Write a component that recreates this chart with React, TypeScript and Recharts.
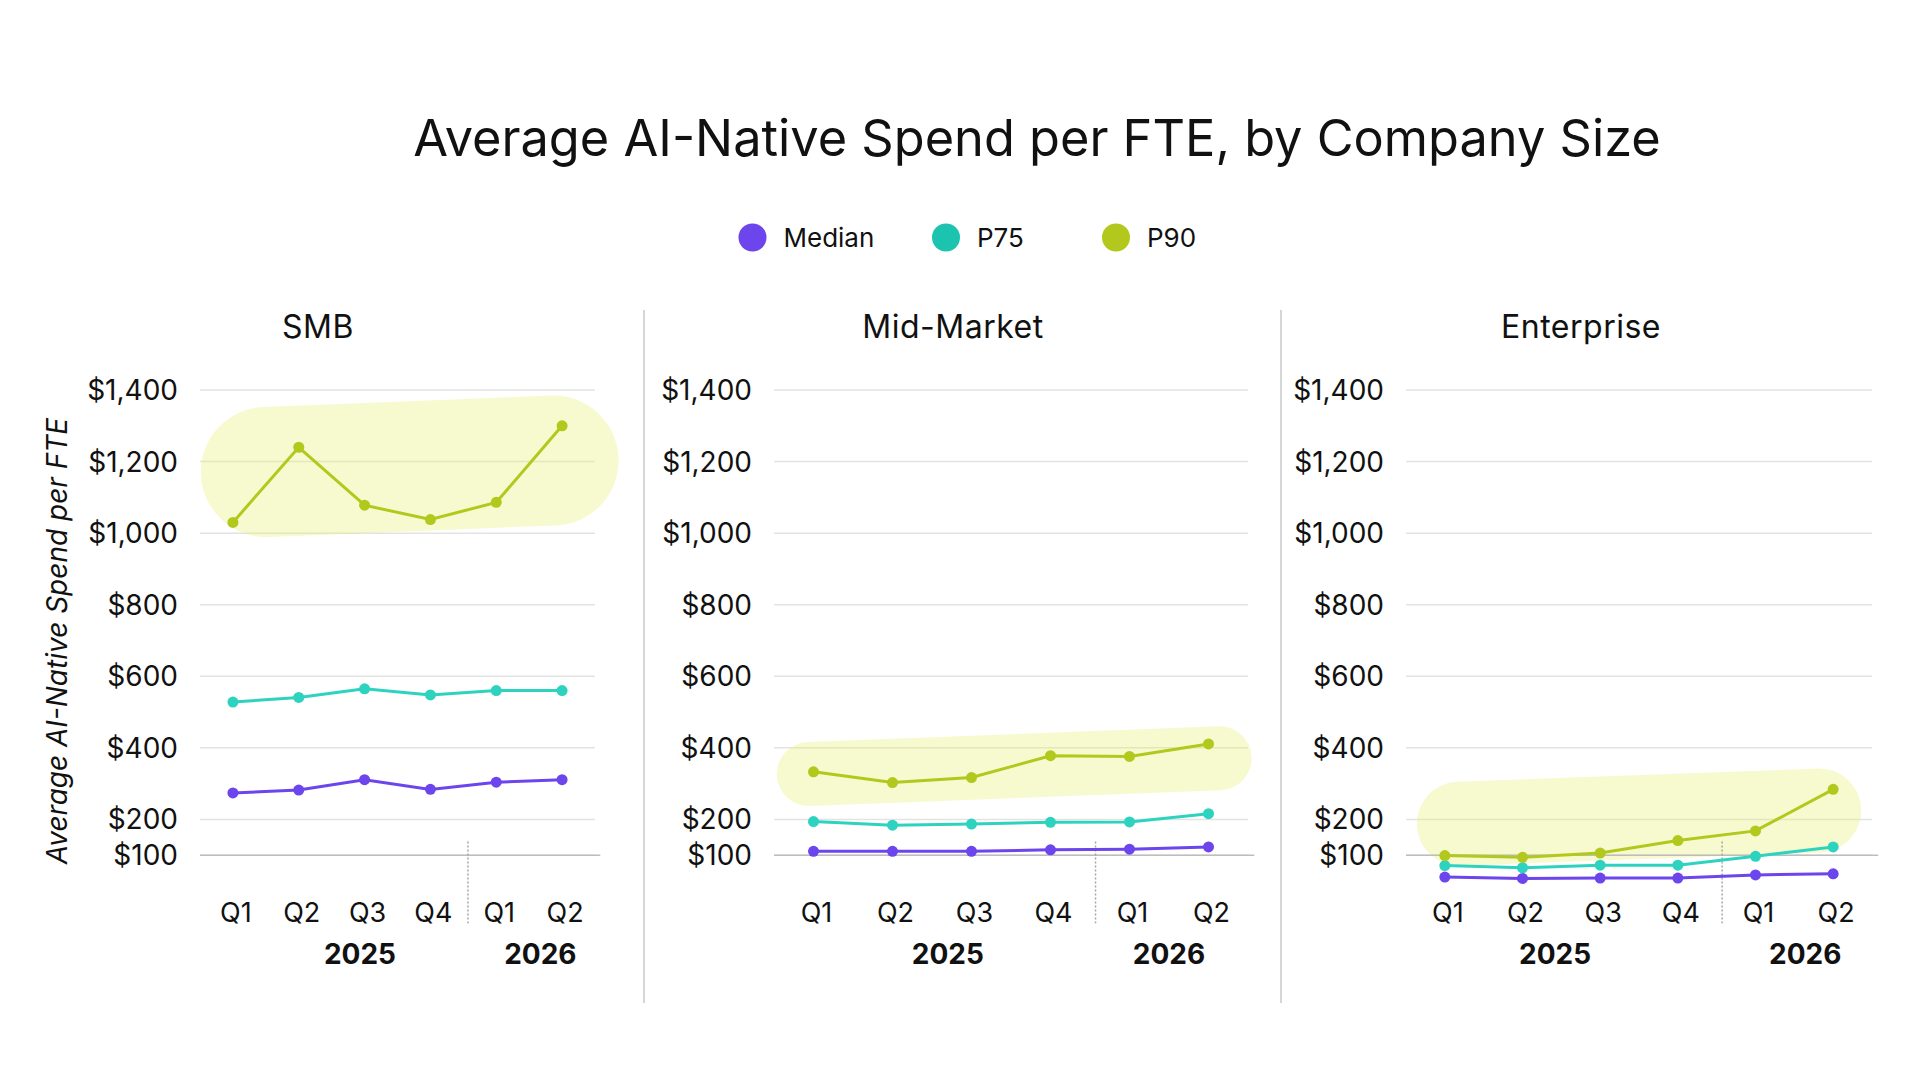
import React from "react";
import {
  LineChart,
  Line,
  XAxis,
  YAxis,
  CartesianGrid,
  ReferenceLine,
} from "recharts";

// quarters shown under every panel
const quarters = ["Q1", "Q2", "Q3", "Q4", "Q1", "Q2"];
const years = ["2025", "2026"];
const yTicks = [100, 200, 400, 600, 800, 1000, 1200, 1400];

// SMB
const smbMedian = [274, 282, 311, 284, 304, 311];
const smbP75 = [528, 541, 565, 548, 560, 560];
const smbP90 = [1030, 1240, 1078, 1038, 1086, 1300];

// Mid-Market
const mmMedian = [111, 111, 111, 115, 117, 123];
const mmP75 = [194, 184, 187, 192, 193, 216];
const mmP90 = [333, 303, 317, 378, 376, 411];

// Enterprise
const entMedian = [39, 35, 36, 36, 45, 48];
const entP75 = [71, 65, 72, 72, 97, 123];
const entP90 = [99, 94, 106, 141, 168, 284];

const COLORS = {
  median: "#6C45EC",
  p75: "#2DD3BE",
  p90: "#B3C81C",
  highlight: "#E6EE6E",
  grid: "#E3E3E3",
  axis: "#BDBDBD",
  divider: "#C9C9C9",
  text: "#111111",
};

const FONT = "Inter, 'Noto Sans', sans-serif";

const buildRows = (median: number[], p75: number[], p90: number[]) =>
  quarters.map((q, i) => ({ x: i, q, median: median[i], p75: p75[i], p90: p90[i] }));

const panels = [
  {
    name: "SMB",
    rows: buildRows(smbMedian, smbP75, smbP90),
    left: 0,
    width: 620,
    marginLeft: 90,
    yWidth: 110,
    plotWidth: 395,
    yearTicks: [1.93, 4.67],
    band: { x1: 0.5, y1: 1171, x2: 4.87, y2: 1203, size: 130 },
  },
  {
    name: "Mid-Market",
    rows: buildRows(mmMedian, mmP75, mmP90),
    left: 660,
    width: 618,
    marginLeft: 0,
    yWidth: 114,
    plotWidth: 474,
    yearTicks: [1.7, 4.5],
    band: { x1: -0.06, y1: 327, x2: 5.14, y2: 371, size: 64 },
  },
  {
    name: "Enterprise",
    rows: buildRows(entMedian, entP75, entP90),
    left: 1292,
    width: 610,
    marginLeft: 0,
    yWidth: 114,
    plotWidth: 466,
    yearTicks: [1.42, 4.64],
    band: { x1: 0.18, y1: 188, x2: 4.82, y2: 225, size: 84 },
  },
];

const money = (v: number) => "$" + v.toLocaleString("en-US");

const Panel = ({ p }: { p: (typeof panels)[number] }) => (
  <div style={{ position: "absolute", left: p.left, top: 360 }}>
    <LineChart
      width={p.width}
      height={640}
      data={p.rows}
      margin={{ top: 30, right: p.width - p.marginLeft - p.yWidth - p.plotWidth, left: p.marginLeft, bottom: 19 }}
    >
      <CartesianGrid
        vertical={false}
        horizontalValues={yTicks}
        stroke={COLORS.grid}
        strokeWidth={1.5}
      />
      <ReferenceLine
        segment={[
          { x: p.band.x1, y: p.band.y1 },
          { x: p.band.x2, y: p.band.y2 },
        ]}
        ifOverflow="visible"
        stroke={COLORS.highlight}
        strokeOpacity={0.33}
        strokeWidth={p.band.size}
        strokeLinecap="round"
      />
      <ReferenceLine
        segment={[
          { x: -0.5, y: 100 },
          { x: 5.58, y: 100 },
        ]}
        ifOverflow="visible"
        stroke={COLORS.axis}
        strokeWidth={1.5}
      />
      <ReferenceLine
        segment={[
          { x: 3.57, y: 138 },
          { x: 3.57, y: -90 },
        ]}
        ifOverflow="visible"
        stroke="#A5A5A5"
        strokeWidth={1.5}
        strokeDasharray="2 2"
      />
      <XAxis
        dataKey="x"
        type="number"
        domain={[-0.5, 5.5]}
        allowDataOverflow
        ticks={[0, 1, 2, 3, 4, 5]}
        tickFormatter={(v: number) => quarters[v]}
        axisLine={false}
        tickLine={false}
        tickSize={0}
        tickMargin={12}
        height={40}
        interval={0}
        tick={{ fontSize: 27, fill: COLORS.text, fontFamily: FONT, dx: 3 }}
      />
      <XAxis
        xAxisId="year"
        dataKey="x"
        type="number"
        domain={[-0.5, 5.5]}
        allowDataOverflow
        ticks={p.yearTicks}
        tickFormatter={(_v: number, i: number) => years[i]}
        axisLine={false}
        tickLine={false}
        tickSize={0}
        tickMargin={13}
        height={50}
        interval={0}
        tick={{ fontSize: 28, fontWeight: 700, fill: COLORS.text, fontFamily: FONT }}
      />
      <YAxis
        type="number"
        domain={[0, 1400]}
        allowDataOverflow
        ticks={yTicks}
        tickFormatter={money}
        axisLine={false}
        tickLine={false}
        tickSize={0}
        tickMargin={22}
        width={p.yWidth}
        interval={0}
        tick={{ fontSize: 28, fill: COLORS.text, fontFamily: FONT }}
      />
      <Line
        dataKey="median"
        stroke={COLORS.median}
        strokeWidth={3}
        dot={{ r: 5.5, fill: COLORS.median, stroke: COLORS.median, strokeWidth: 0 }}
        activeDot={false}
        isAnimationActive={false}
      />
      <Line
        dataKey="p75"
        stroke={COLORS.p75}
        strokeWidth={3}
        dot={{ r: 5.5, fill: COLORS.p75, stroke: COLORS.p75, strokeWidth: 0 }}
        activeDot={false}
        isAnimationActive={false}
      />
      <Line
        dataKey="p90"
        stroke={COLORS.p90}
        strokeWidth={3}
        dot={{ r: 5.5, fill: COLORS.p90, stroke: COLORS.p90, strokeWidth: 0 }}
        activeDot={false}
        isAnimationActive={false}
      />
    </LineChart>
  </div>
);

const legendItems = [
  { label: "Median", color: COLORS.median, cx: 752.5 },
  { label: "P75", color: "#1CC4AF", cx: 946 },
  { label: "P90", color: COLORS.p90, cx: 1116 },
];

const panelTitles = [
  { label: "SMB", cx: 318 },
  { label: "Mid-Market", cx: 953 },
  { label: "Enterprise", cx: 1581 },
];

export default function App() {
  return (
    <div
      style={{
        position: "absolute",
        left: 0,
        top: 0,
        width: 1920,
        height: 1080,
        background: "#fff",
        fontFamily: FONT,
      }}
    >
      <svg width={1920} height={1080} style={{ position: "absolute", left: 0, top: 0 }}>
        <text x={1037} y={156} textAnchor="middle" fontSize={50.5} fill={COLORS.text} fontFamily={FONT}>
          Average AI-Native Spend per FTE, by Company Size
        </text>
        {legendItems.map((l) => (
          <g key={l.label}>
            <circle cx={l.cx} cy={237.5} r={14} fill={l.color} />
            <text x={l.cx + 31} y={246.5} fontSize={26} fill={COLORS.text} fontFamily={FONT}>
              {l.label}
            </text>
          </g>
        ))}
        {panelTitles.map((t) => (
          <text key={t.label} x={t.cx} y={338} textAnchor="middle" fontSize={32} fill={COLORS.text} fontFamily={FONT} letterSpacing={0.5}>
            {t.label}
          </text>
        ))}
        <line x1={644} y1={310} x2={644} y2={1003} stroke={COLORS.divider} strokeWidth={1.5} />
        <line x1={1281} y1={310} x2={1281} y2={1003} stroke={COLORS.divider} strokeWidth={1.5} />
        <text
          x={67}
          y={641}
          transform="rotate(-90 67 641)"
          textAnchor="middle"
          fontSize={28}
          fontStyle="italic"
          fill={COLORS.text}
          fontFamily={FONT}
        >
          Average AI-Native Spend per FTE
        </text>
      </svg>
      {panels.map((p) => (
        <Panel key={p.name} p={p} />
      ))}
    </div>
  );
}
